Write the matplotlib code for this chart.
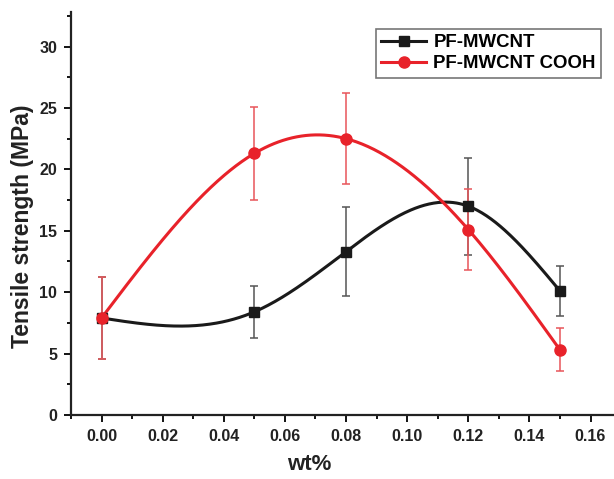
import numpy as np
import matplotlib
matplotlib.use("Agg")
import matplotlib.pyplot as plt
from matplotlib.ticker import MultipleLocator

plt.rcParams['font.family'] = ['Liberation Sans', 'DejaVu Sans']

wt = [0.00, 0.05, 0.08, 0.12, 0.15]
pf_mwcnt = [7.9, 8.4, 13.3, 17.0, 10.1]
pf_mwcnt_err = [3.3, 2.1, 3.6, 3.95, 2.05]
pf_cooh = [7.9, 21.3, 22.5, 15.1, 5.3]
pf_cooh_err = [3.3, 3.8, 3.7, 3.3, 1.75]
xticks = [0.00, 0.02, 0.04, 0.06, 0.08, 0.10, 0.12, 0.14, 0.16]
yticks = [0, 5, 10, 15, 20, 25, 30]


def natural_spline(x, y, xs):
    x = np.asarray(x, float); y = np.asarray(y, float)
    n = len(x)
    h = np.diff(x)
    A = np.zeros((n, n)); b = np.zeros(n)
    A[0, 0] = 1; A[-1, -1] = 1
    for i in range(1, n - 1):
        A[i, i - 1] = h[i - 1]
        A[i, i] = 2 * (h[i - 1] + h[i])
        A[i, i + 1] = h[i]
        b[i] = 3 * ((y[i + 1] - y[i]) / h[i] - (y[i] - y[i - 1]) / h[i - 1])
    c = np.linalg.solve(A, b)
    out = np.empty_like(xs)
    for k, xv in enumerate(xs):
        i = min(max(np.searchsorted(x, xv) - 1, 0), n - 2)
        bi = (y[i + 1] - y[i]) / h[i] - h[i] * (2 * c[i] + c[i + 1]) / 3
        di = (c[i + 1] - c[i]) / (3 * h[i])
        t = xv - x[i]
        out[k] = y[i] + bi * t + c[i] * t ** 2 + di * t ** 3
    return out


fig = plt.figure(figsize=(6.14, 4.79), dpi=100)
ax = fig.add_axes([0.1156, 0.1336, 0.896, 0.841])

xs = np.linspace(wt[0], wt[-1], 400)
black = '#1a1a1a'
red = '#e8222a'

ax.errorbar(wt, pf_mwcnt, yerr=pf_mwcnt_err, fmt='none', ecolor='#555555',
            elinewidth=1.1, capsize=3.2, capthick=1.1, zorder=2)
ax.errorbar(wt, pf_cooh, yerr=pf_cooh_err, fmt='none', ecolor='#e8555a',
            elinewidth=1.1, capsize=3.2, capthick=1.1, zorder=2)

ax.plot(xs, natural_spline(wt, pf_mwcnt, xs), color=black, lw=2.2, zorder=3)
ax.plot(xs, natural_spline(wt, pf_cooh, xs), color=red, lw=2.2, zorder=3)
ax.plot(wt, pf_mwcnt, 's', color=black, ms=7, zorder=4)
ax.plot(wt, pf_cooh, 'o', color=red, ms=8, zorder=4)

h1, = ax.plot([], [], '-s', color=black, lw=2.2, ms=7, label='PF-MWCNT')
h2, = ax.plot([], [], '-o', color=red, lw=2.2, ms=8, label='PF-MWCNT COOH')

ax.set_xlim(-0.01, 0.17)
ax.set_ylim(0, 32.8)
ax.set_xticks(xticks)
ax.set_xticklabels([f'{v:.2f}' for v in xticks])
ax.set_yticks(yticks)
ax.xaxis.set_minor_locator(MultipleLocator(0.01))
ax.yaxis.set_minor_locator(MultipleLocator(2.5))
ax.tick_params(axis='both', which='major', direction='out', length=5, width=1.3,
               labelsize=11.5, pad=5)
ax.tick_params(axis='both', which='minor', direction='out', length=3, width=1.3)
for lab in ax.get_xticklabels() + ax.get_yticklabels():
    lab.set_fontweight('bold')
    lab.set_color('#222222')

for s in ['top', 'right']:
    ax.spines[s].set_visible(False)
for s in ['left', 'bottom']:
    ax.spines[s].set_linewidth(1.6)
    ax.spines[s].set_color('#222222')

ax.set_xlabel('wt%', fontsize=16, fontweight='bold', color='#222222')
ax.set_ylabel('Tensile strength (MPa)', fontsize=16.5, fontweight='bold',
              color='#222222')
ax.xaxis.set_label_coords((309 - 71) / 550, -0.097)
ax.yaxis.set_label_coords(-0.068, 0.469)

leg = fig.legend(handles=[h1, h2], loc='upper left', bbox_to_anchor=(0.612, 0.94),
                 prop={'weight': 'bold', 'size': 13.4}, frameon=True, fancybox=False,
                 edgecolor='#555555', handlelength=2.4, borderpad=0.3,
                 labelspacing=0.2, handletextpad=0.4, borderaxespad=0)
leg.get_frame().set_linewidth(1.2)

fig.savefig('out.png', dpi=100)
